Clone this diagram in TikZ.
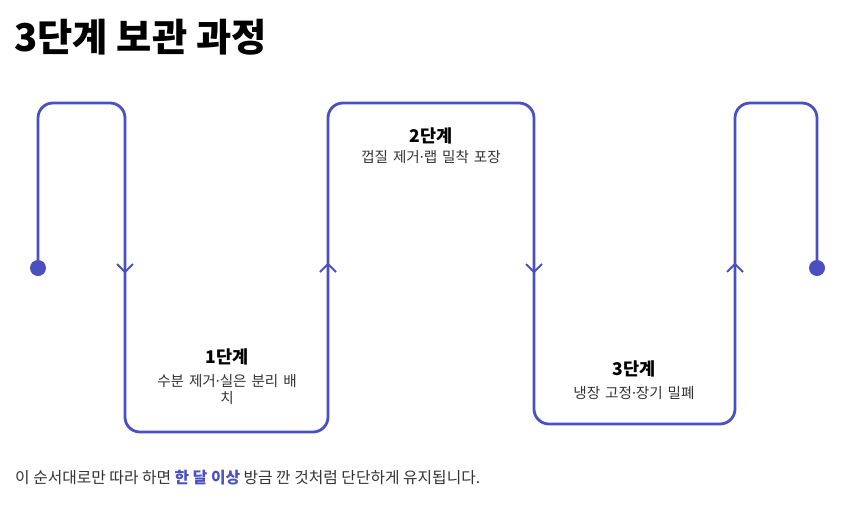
\documentclass[tikz,border=0pt]{standalone}
\usepackage{fontspec}
\setmainfont{Noto Sans CJK KR}
\newfontfamily\dotfont{Noto Sans}
\newcommand{\mdot}{{\dotfont ·}}
\definecolor{flow}{HTML}{4A50BF}
\definecolor{desc}{HTML}{333333}
\begin{document}
\begin{tikzpicture}[x=1pt,y=-1pt,
  flowline/.style={draw=flow,line width=2.8pt,rounded corners=15pt},
  chev/.style={draw=flow,line width=1.8pt},
  stagetitle/.style={font=\fontsize{17.5}{20}\selectfont\bfseries,text=black,anchor=center,inner sep=0pt},
  stagedesc/.style={font=\fontsize{14.6}{17}\selectfont,text=desc,anchor=north,align=center,inner sep=0pt,text width=170pt},
  enddot/.style={circle,fill=flow,minimum size=16pt,inner sep=0pt}]
\useasboundingbox (0,0) rectangle (862,509);
\node[anchor=west,inner sep=0pt,font=\fontsize{38.3}{42}\selectfont\bfseries] (title) at (14,37) {3단계 보관 과정};
% path coordinates
\coordinate (p0) at (38,268);
\coordinate (p1) at (38,103);
\coordinate (p2) at (125,103);
\coordinate (p3) at (125,432);
\coordinate (p4) at (328,432);
\coordinate (p5) at (328,103);
\coordinate (p6) at (534,103);
\coordinate (p7) at (534,424);
\coordinate (p8) at (735,424);
\coordinate (p9) at (735,103);
\coordinate (p10) at (817,103);
\coordinate (p11) at (817,268);
\path[flowline] (p0) -- (p1) -- (p2) -- (p3) -- (p4) -- (p5) -- (p6) -- (p7) -- (p8) -- (p9) -- (p10) -- (p11);
\node[enddot] (start) at (p0) {};
\node[enddot] (finish) at (p11) {};
% chevrons
\coordinate (a1) at (125,272);
\coordinate (a2) at (328,264);
\coordinate (a3) at (534,272);
\coordinate (a4) at (735,264);
\draw[chev] ([shift={(-8,-8)}]a1) -- (a1) -- ([shift={(8,-8)}]a1);
\draw[chev] ([shift={(-8,8)}]a2) -- (a2) -- ([shift={(8,8)}]a2);
\draw[chev] ([shift={(-8,-8)}]a3) -- (a3) -- ([shift={(8,-8)}]a3);
\draw[chev] ([shift={(-8,8)}]a4) -- (a4) -- ([shift={(8,8)}]a4);
% stage labels
\node[stagetitle] (s1t) at (227,357) {1단계};
\node[stagedesc] (s1d) at (227,374) {수분 제거\mdot 실은 분리 배\\치};
\node[stagetitle] (s2t) at (431,136) {2단계};
\node[stagedesc] (s2d) at (431,150) {껍질 제거\mdot 랩 밀착 포장};
\node[stagetitle] (s3t) at (634,369) {3단계};
\node[stagedesc] (s3d) at (634,386) {냉장 고정\mdot 장기 밀폐};
% footer
\node[anchor=west,inner sep=0pt,font=\fontsize{15.8}{18}\selectfont,text=desc] (foot) at (15,478) {이 순서대로만 따라 하면 \textcolor{flow}{\bfseries 한 달 이상} 방금 깐 것처럼 단단하게 유지됩니다.};
\end{tikzpicture}
\end{document}
